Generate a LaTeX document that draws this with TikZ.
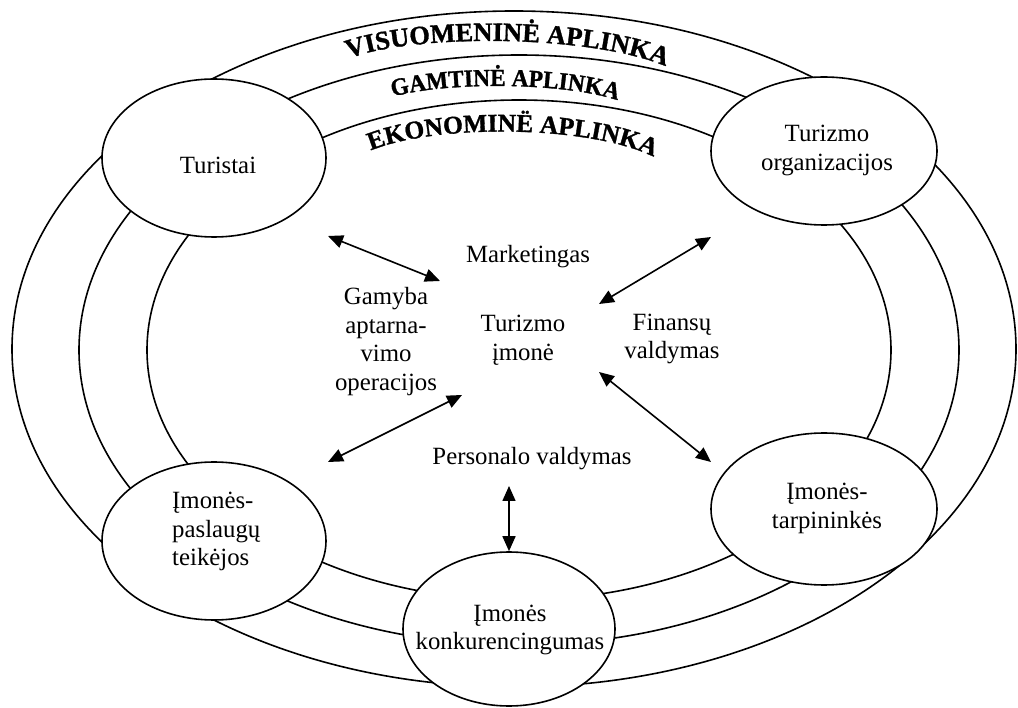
\documentclass[tikz,border=0pt]{standalone}
\usepackage{fontspec}
\setmainfont{Liberation Serif}
\newfontfamily\arcfont[BoldFeatures={FakeBold=1.2}]{Liberation Serif}
\newfontfamily\arcfontb[FakeStretch=0.95,BoldFeatures={FakeBold=1.2}]{Liberation Serif}
\usetikzlibrary{shapes.geometric,arrows.meta,decorations.text}
\begin{document}
\begin{tikzpicture}[x=1pt,y=-1pt,
  ring/.style={line width=1.6pt},
  ell/.style={ellipse,draw,line width=1.6pt,fill=white,inner sep=0pt},
  txt/.style={font=\fontsize{24.8}{28.5}\selectfont,inner sep=0pt,align=center},
  tip/.tip={Triangle[length=15pt,width=13pt]},
  dbl/.style={line width=1.6pt,tip-tip}]

\useasboundingbox[fill=white] (0,0) rectangle (1018,708);

% rings
\draw[ring] (514,349) ellipse [x radius=502, y radius=338];
\draw[ring] (519,350) ellipse [x radius=440, y radius=295];
\draw[ring] (519,350) ellipse [x radius=372, y radius=250];

% curved ring titles
\coordinate (v0) at (336,64);
\coordinate (v1) at (394,32);
\coordinate (v2) at (604,32);
\coordinate (v3) at (678,72);
\path[decorate,decoration={text along path,text align=center,
  text={|\arcfont\bfseries\fontsize{26.5}{26.5}\selectfont|VISUOMENINĖ APLINKA}}]
  (v0) .. controls (v1) and (v2) .. (v3);

\coordinate (g0) at (378,102);
\coordinate (g1) at (426,80);
\coordinate (g2) at (580,80);
\coordinate (g3) at (632,106);
\path[decorate,decoration={text along path,text align=center,
  text={|\arcfontb\bfseries\fontsize{24.5}{24.5}\selectfont|GAMTINĖ APLINKA}}]
  (g0) .. controls (g1) and (g2) .. (g3);

\coordinate (e0) at (358,157);
\coordinate (e1) at (414,122);
\coordinate (e2) at (606,122);
\coordinate (e3) at (666,164);
\path[decorate,decoration={text along path,text align=center,
  text={|\arcfont\bfseries\fontsize{25.5}{25.5}\selectfont|EKONOMINË APLINKA}}]
  (e0) .. controls (e1) and (e2) .. (e3);

% outer ellipses
\node[ell,minimum width=224pt,minimum height=158pt] (tur) at (214,158) {};
\node[ell,minimum width=226pt,minimum height=148pt] (org) at (824,151) {};
\node[ell,minimum width=226pt,minimum height=152pt] (tarp) at (824,509) {};
\node[ell,minimum width=224pt,minimum height=158pt] (pasl) at (214,541) {};
\node[ell,minimum width=212pt,minimum height=154pt] (konk) at (509,629) {};

\node[txt] (turT) at (218,165) {Turistai};
\node[txt] (orgT) at (827,150.6) {Turizmo\\organizacijos};
\node[txt] (tarpT) at (827,508.5) {Įmonės-\\tarpininkės};
\node[txt,align=left,anchor=west] (paslT) at (172,531.5) {Įmonės-\\paslaugų\\teikėjos};
\node[txt] (konkT) at (510,630) {Įmonės\\konkurencingumas};

% centre texts
\node[txt,anchor=base] (mkt) at (528,263) {Marketingas};
\node[txt] (gam) at (386,341.3) {Gamyba\\aptarna-\\vimo\\operacijos};
\node[txt] (imone) at (523,340.3) {Turizmo\\įmonė};
\node[txt] (fin) at (672,338.8) {Finansų\\valdymas};
\node[txt,anchor=base] (pers) at (532,465) {Personalo valdymas};

% arrows
\coordinate (a1s) at (328,236); \coordinate (a1e) at (440,281);
\coordinate (a2s) at (711,237); \coordinate (a2e) at (599,304);
\coordinate (a3s) at (328,462); \coordinate (a3e) at (462,395);
\coordinate (a4s) at (599,372); \coordinate (a4e) at (711,462);
\coordinate (a5s) at (509,486);
\draw[dbl] (a1s) -- (a1e);
\draw[dbl] (a2s) -- (a2e);
\draw[dbl] (a3s) -- (a3e);
\draw[dbl] (a4s) -- (a4e);
\draw[dbl] (a5s) -- (konk.north);
\end{tikzpicture}
\end{document}
